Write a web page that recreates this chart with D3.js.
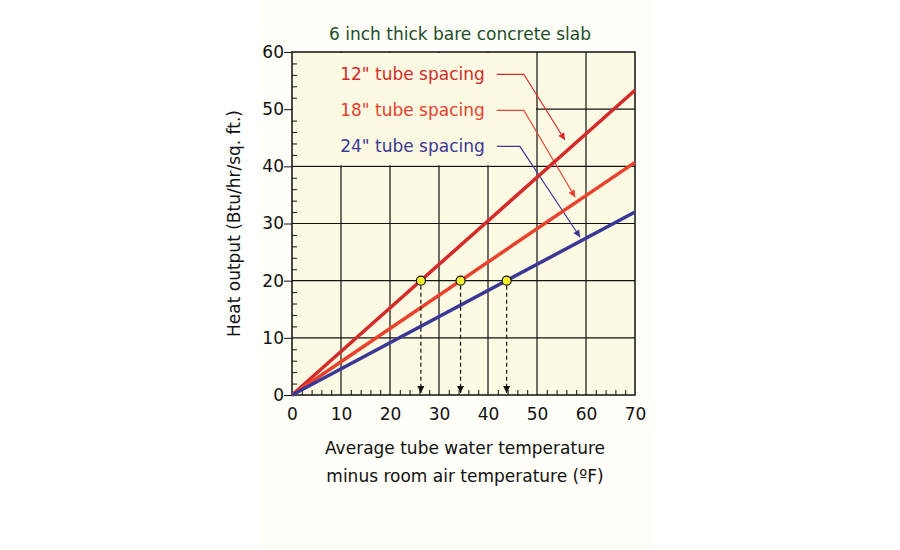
<!DOCTYPE html><html><head><meta charset="utf-8"><script src="https://cdn.jsdelivr.net/npm/d3@7"></script>
<style>body{margin:0;background:#fff}text{font-family:"DejaVu Sans",Verdana,sans-serif}</style></head><body><svg id="c" width="900" height="550"></svg>
<script>
const seriesNames=['12" tube spacing','18" tube spacing','24" tube spacing'];
const endValues=[53.3,40.7,32];   // heat output at 70°F
const designPoints=[26.3,34.4,43.8]; // x where output = 20
const colors=["#d42a2a","#e8412c","#3a3896"];
const xTicks=[0,10,20,30,40,50,60,70], yTicks=[0,10,20,30,40,50,60];
const leaders=[[[41.8,56.1],[47.3,56.1],[55.7,44.6]],[[41.8,49.8],[47.3,49.8],[57.8,34.6]],[[41.8,43.5],[46.5,43.5],[58.8,27.6]]];
const svg=d3.select("#c");
svg.append("rect").attr("x",262).attr("y",0).attr("width",390).attr("height",550).attr("fill","#fffef8");
const x=d3.scaleLinear().domain([0,70]).range([292,635]);
const y=d3.scaleLinear().domain([0,60]).range([395,52]);
svg.append("rect").attr("x",x(0)).attr("y",y(60)).attr("width",x(70)-x(0)).attr("height",y(0)-y(60)).attr("fill","#fdfae3");
const g=svg.append("g");
xTicks.slice(1,-1).forEach(t=>g.append("line").attr("x1",x(t)).attr("x2",x(t)).attr("y1",y(0)).attr("y2",y(60)).attr("stroke","#111").attr("stroke-width",1.2));
yTicks.slice(1,-1).forEach(t=>g.append("line").attr("x1",x(0)).attr("x2",x(70)).attr("y1",y(t)).attr("y2",y(t)).attr("stroke","#111").attr("stroke-width",1.2));
svg.append("rect").attr("x",x(0)+1).attr("y",y(60)+1).attr("width",x(50)-x(0)-2).attr("height",y(40)-y(60)-2).attr("fill","#fdfae3");
svg.append("rect").attr("x",x(0)).attr("y",y(60)).attr("width",x(70)-x(0)).attr("height",y(0)-y(60)).attr("fill","none").attr("stroke","#111").attr("stroke-width",1.5);
const defs=svg.append("defs");
function marker(id,c){defs.append("marker").attr("id",id).attr("viewBox","0 0 10 10").attr("refX",10).attr("refY",5).attr("markerWidth",9).attr("markerHeight",7).attr("markerUnits","userSpaceOnUse").attr("orient","auto").append("path").attr("d","M0,0L10,5L0,10z").attr("fill",c);}
colors.forEach((c,i)=>marker("m"+i,c));marker("mk","#111");
const ax=svg.append("g").attr("transform",`translate(0,${y(0)})`).call(d3.axisBottom(x).tickValues(d3.range(0,71,2)).tickSize(5).tickFormat(d=>d%10?"":d));
const ay=svg.append("g").attr("transform",`translate(${x(0)},0)`).call(d3.axisLeft(y).tickValues(d3.range(0,61,2)).tickSize(5).tickFormat(d=>d%10?"":d));
[ax,ay].forEach(a=>{a.select(".domain").remove();a.selectAll("text").attr("font-size",17).attr("fill","#111");a.selectAll("line").attr("stroke","#111");});
ax.selectAll("line").attr("transform","translate(0,-5)");ay.selectAll("line").attr("transform","translate(5,0)");
ax.selectAll("text").attr("dy","1.0em");
ay.selectAll(".tick").filter(d=>d%10==0).select("line").attr("x2",-8).attr("transform","translate(0,0)");
ax.selectAll(".tick").filter(d=>d%10==0).select("line").attr("y2",0);
leaders.forEach((p,i)=>svg.append("path").attr("d",d3.line().x(d=>x(d[0])).y(d=>y(d[1]))(p)).attr("fill","none").attr("stroke",colors[i]).attr("stroke-width",1.2).attr("marker-end",`url(#m${i})`));
endValues.forEach((v,i)=>svg.append("line").attr("x1",x(0)).attr("y1",y(0)).attr("x2",x(70)).attr("y2",y(v)).attr("stroke",colors[i]).attr("stroke-width",3.5));
designPoints.forEach(d=>svg.append("line").attr("x1",x(d)).attr("x2",x(d)).attr("y1",y(20)+5).attr("y2",y(0)-2).attr("stroke","#111").attr("stroke-width",1.2).attr("stroke-dasharray","4,3").attr("marker-end","url(#mk)"));
designPoints.forEach(d=>svg.append("circle").attr("cx",x(d)).attr("cy",y(20)).attr("r",4.5).attr("fill","#f5ee2a").attr("stroke","#111").attr("stroke-width",1.2));
seriesNames.forEach((s,i)=>svg.append("text").attr("x",x(41.8)-12).attr("y",y(leaders[i][0][1])+6).attr("text-anchor","end").attr("font-size",17).attr("fill",colors[i]).text(s));
svg.append("text").attr("x",460).attr("y",40).attr("text-anchor","middle").attr("font-size",17).attr("fill","#1d4d2a").text("6 inch thick bare concrete slab");
svg.append("text").attr("transform",`translate(240,${y(30)}) rotate(-90)`).attr("text-anchor","middle").attr("font-size",17).attr("fill","#111").text("Heat output (Btu/hr/sq. ft.)");
svg.append("text").attr("x",465).attr("y",454).attr("text-anchor","middle").attr("font-size",17).attr("fill","#111").text("Average tube water temperature");
svg.append("text").attr("x",465).attr("y",482).attr("text-anchor","middle").attr("font-size",17).attr("fill","#111").text("minus room air temperature (ºF)");
</script></body></html>
